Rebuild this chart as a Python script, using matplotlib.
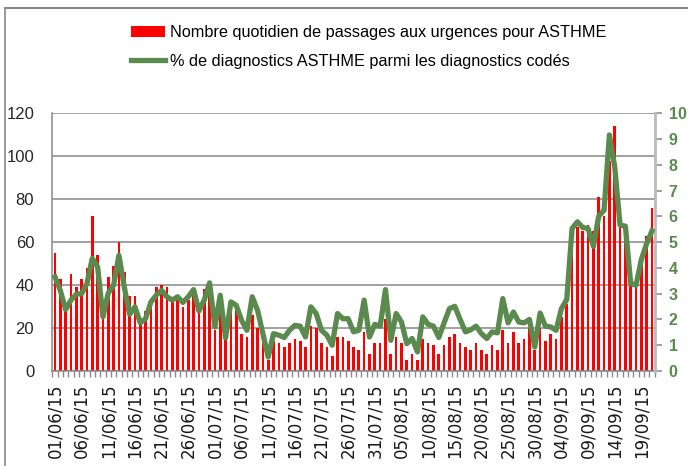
import matplotlib
matplotlib.use('Agg')
import matplotlib.pyplot as plt
from matplotlib.lines import Line2D
import numpy as np
import pandas as pd

# ---- data ----
days = pd.date_range('2015-06-01', '2015-09-21', freq='D')

passages = [55, 43, 28, 45, 39, 43, 48, 72, 54, 25,
            44, 49, 60, 46, 35, 35, 22, 28, 33, 39,
            40, 39, 32, 34, 30, 33, 36, 28, 38, 39,
            19, 30, 15, 33, 31, 17, 16, 26, 20, 14,
            5, 14, 13, 11, 13, 15, 14, 11, 21, 20,
            13, 11, 7, 16, 16, 14, 11, 10, 18, 8,
            13, 13, 24, 8, 16, 13, 5, 8, 5, 15,
            13, 12, 8, 12, 16, 17, 13, 11, 10, 13,
            10, 8, 12, 10, 19, 13, 18, 13, 15, 20,
            10, 20, 14, 17, 15, 25, 31, 66, 67, 65,
            68, 65, 81, 72, 98, 114, 67, 66, 40, 40,
            50, 63, 76]

pct_asthme = [3.65, 3.13, 2.38, 2.75, 2.98, 3.00, 3.39, 4.37, 4.04, 2.10,
              3.03, 3.33, 4.49, 3.26, 2.20, 2.49, 1.87, 2.03, 2.68, 2.94,
              3.13, 2.88, 2.75, 2.88, 2.66, 2.88, 3.16, 2.33, 2.75, 3.42,
              1.71, 2.94, 1.28, 2.68, 2.55, 1.97, 1.58, 2.88, 2.36, 1.45,
              0.54, 1.45, 1.39, 1.30, 1.58, 1.77, 1.74, 1.32, 2.49, 2.23,
              1.58, 1.39, 1.00, 2.23, 2.03, 2.03, 1.52, 1.58, 2.75, 1.32,
              1.81, 1.74, 3.16, 1.19, 2.23, 1.90, 1.06, 1.26, 0.74, 2.10,
              1.81, 1.74, 1.30, 1.87, 2.42, 2.51, 2.00, 1.52, 1.60, 1.74,
              1.45, 1.26, 1.52, 1.48, 2.81, 1.87, 2.29, 1.90, 1.87, 2.00,
              0.93, 2.25, 1.74, 1.71, 1.58, 2.42, 2.77, 5.53, 5.79, 5.57,
              5.53, 4.84, 6.01, 6.24, 9.16, 7.93, 5.66, 5.62, 3.39, 3.33,
              4.33, 4.95, 5.44]

tick_labels = ['01/06/15', '06/06/15', '11/06/15', '16/06/15', '21/06/15',
               '26/06/15', '01/07/15', '06/07/15', '11/07/15', '16/07/15',
               '21/07/15', '26/07/15', '31/07/15', '05/08/15', '10/08/15',
               '15/08/15', '20/08/15', '25/08/15', '30/08/15', '04/09/15',
               '09/09/15', '14/09/15', '19/09/15']

label_bars = 'Nombre quotidien de passages aux urgences pour ASTHME'
label_line = '% de diagnostics ASTHME parmi les diagnostics codés'

# ---- style ----
plt.rcParams['font.family'] = ['Liberation Sans', 'DejaVu Sans']
RED = '#FF0000'
GREEN = '#5B8A4F'
GREY = '#888888'

W, H = 688, 466
fig = plt.figure(figsize=(W / 100, H / 100), dpi=100)
ax = fig.add_axes([52.3 / W, 1 - 371 / H, (654.7 - 52.3) / W, (371 - 113.3) / H])

x = np.arange(len(days))
bars = ax.bar(x, passages, width=0.5, color=RED, zorder=2)
ax.set_xlim(-0.5, len(days) - 0.5)
ax.set_ylim(0, 120)
ax.set_yticks(np.arange(0, 121, 20))
ax.yaxis.grid(True, color=GREY, lw=1.1, zorder=0)
ax.set_axisbelow(True)
ax.tick_params(axis='y', length=0, pad=13, labelsize=12, labelcolor='#262626')

major = np.arange(0, len(days), 5)
ax.set_xticks(major)
ax.set_xticklabels(tick_labels, rotation=90, fontsize=12, family='DejaVu Sans', color='#1a1a1a')
ax.set_xticks(np.arange(-0.5, len(days), 1), minor=True)
ax.tick_params(axis='x', which='major', length=0, pad=9)
ax.tick_params(axis='x', which='minor', length=4, color=GREY, width=1)

for s in ['top', 'right']:
    ax.spines[s].set_visible(False)
for s in ['left', 'bottom']:
    ax.spines[s].set_color(GREY)
    ax.spines[s].set_linewidth(1.1)

ax2 = ax.twinx()
line, = ax2.plot(x, pct_asthme, color=GREEN, lw=3.8, solid_joinstyle='round', zorder=3)
ax2.set_ylim(0, 10)
ax2.set_yticks(np.arange(0, 11, 1))
ax2.tick_params(axis='y', length=5, color=GREY, width=1.1, pad=5,
                labelsize=11.5, labelcolor=GREEN)
for t in ax2.get_yticklabels():
    t.set_fontweight('bold')
for s in ['top', 'left', 'bottom']:
    ax2.spines[s].set_visible(False)
ax2.spines['right'].set_color('#BBBBBB')
ax2.spines['right'].set_linewidth(2)

fig.legend([bars, line], [label_bars, label_line], loc='upper left',
           bbox_to_anchor=(131 / W, 1 - 25 / H), frameon=False, fontsize=11.7,
           handlelength=2.1, handletextpad=0.3, labelspacing=0.85,
           borderpad=0, borderaxespad=0)

# figure border (left and top edges visible)
fig.add_artist(Line2D([5 / W, 5 / W], [0, 1 - 8 / H], transform=fig.transFigure,
                      color=GREY, lw=1.2))
fig.add_artist(Line2D([5 / W, 1], [1 - 8 / H, 1 - 8 / H], transform=fig.transFigure,
                      color=GREY, lw=1.5))

fig.savefig('out.png', dpi=100)
